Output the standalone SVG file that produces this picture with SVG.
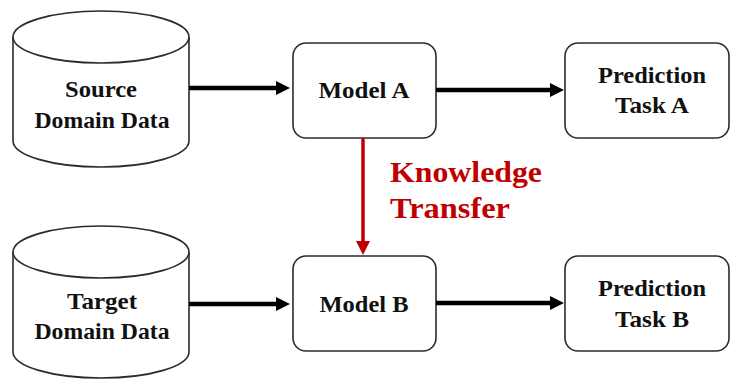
<svg xmlns="http://www.w3.org/2000/svg" width="731" height="379" viewBox="0 0 731 379">
<defs>
<marker id="ah" viewBox="0 0 14 14" refX="6" refY="7" markerWidth="14" markerHeight="14" markerUnits="userSpaceOnUse" orient="auto">
<path d="M0,0 L14,7 L0,14 z" fill="#000"/>
</marker>
<marker id="ahr" viewBox="0 0 14 14" refX="6" refY="7" markerWidth="14" markerHeight="14" markerUnits="userSpaceOnUse" orient="auto">
<path d="M0,0 L14,7 L0,14 z" fill="#C00000"/>
</marker>
</defs>
<style>
.shape{fill:#fff;stroke:#2b2b2b;stroke-width:1.6}
text{font-family:'Liberation Serif','Times New Roman',Times,serif;font-weight:700}
.lbl{font-size:23px;fill:#111;text-anchor:middle}
.red{font-size:29px;fill:#C00000}
.conn{stroke:#000;stroke-width:4.5;fill:none}
.connr{stroke:#C00000;stroke-width:3.5;fill:none}
</style>
<rect width="731" height="379" fill="#fff"/>
<g id="source">
<path class="shape" d="M13,37 L13,141 A88,26 0 0 0 189,141 L189,37"/>
<ellipse class="shape" cx="101" cy="37" rx="88" ry="26"/>
<text class="lbl" x="101" y="97" textLength="72" lengthAdjust="spacingAndGlyphs">Source</text>
<text class="lbl" x="102" y="128" textLength="135" lengthAdjust="spacingAndGlyphs">Domain Data</text>
</g>
<g id="target">
<path class="shape" d="M13,252 L13,352 A88,26 0 0 0 189,352 L189,252"/>
<ellipse class="shape" cx="101" cy="252" rx="88" ry="26"/>
<text class="lbl" x="102" y="309" textLength="70" lengthAdjust="spacingAndGlyphs">Target</text>
<text class="lbl" x="102" y="339" textLength="135" lengthAdjust="spacingAndGlyphs">Domain Data</text>
</g>
<g id="modelA">
<rect class="shape" x="293" y="43" width="143" height="95" rx="13"/>
<text class="lbl" x="364" y="98" textLength="91" lengthAdjust="spacingAndGlyphs">Model A</text>
</g>
<g id="modelB">
<rect class="shape" x="293" y="256" width="143" height="95" rx="13"/>
<text class="lbl" x="364" y="312" textLength="89" lengthAdjust="spacingAndGlyphs">Model B</text>
</g>
<g id="predA">
<rect class="shape" x="565" y="43" width="164" height="95" rx="13"/>
<text class="lbl" x="652" y="83" textLength="108" lengthAdjust="spacingAndGlyphs">Prediction</text>
<text class="lbl" x="652" y="113" textLength="74" lengthAdjust="spacingAndGlyphs">Task A</text>
</g>
<g id="predB">
<rect class="shape" x="565" y="256" width="164" height="95" rx="13"/>
<text class="lbl" x="652" y="296" textLength="108" lengthAdjust="spacingAndGlyphs">Prediction</text>
<text class="lbl" x="652" y="327" textLength="74" lengthAdjust="spacingAndGlyphs">Task B</text>
</g>
<g id="connectors">
<line class="conn" x1="189" y1="88" x2="282" y2="88" marker-end="url(#ah)"/>
<line class="conn" x1="436" y1="90" x2="556" y2="90" marker-end="url(#ah)"/>
<line class="conn" x1="189" y1="304" x2="282" y2="304" marker-end="url(#ah)"/>
<line class="conn" x1="436" y1="303" x2="556" y2="303" marker-end="url(#ah)"/>
<line class="connr" x1="363" y1="138" x2="363" y2="247" marker-end="url(#ahr)"/>
</g>
<g id="label">
<text class="red" x="390" y="182" textLength="152" lengthAdjust="spacingAndGlyphs">Knowledge</text>
<text class="red" x="390" y="218" textLength="120" lengthAdjust="spacingAndGlyphs">Transfer</text>
</g>
</svg>
